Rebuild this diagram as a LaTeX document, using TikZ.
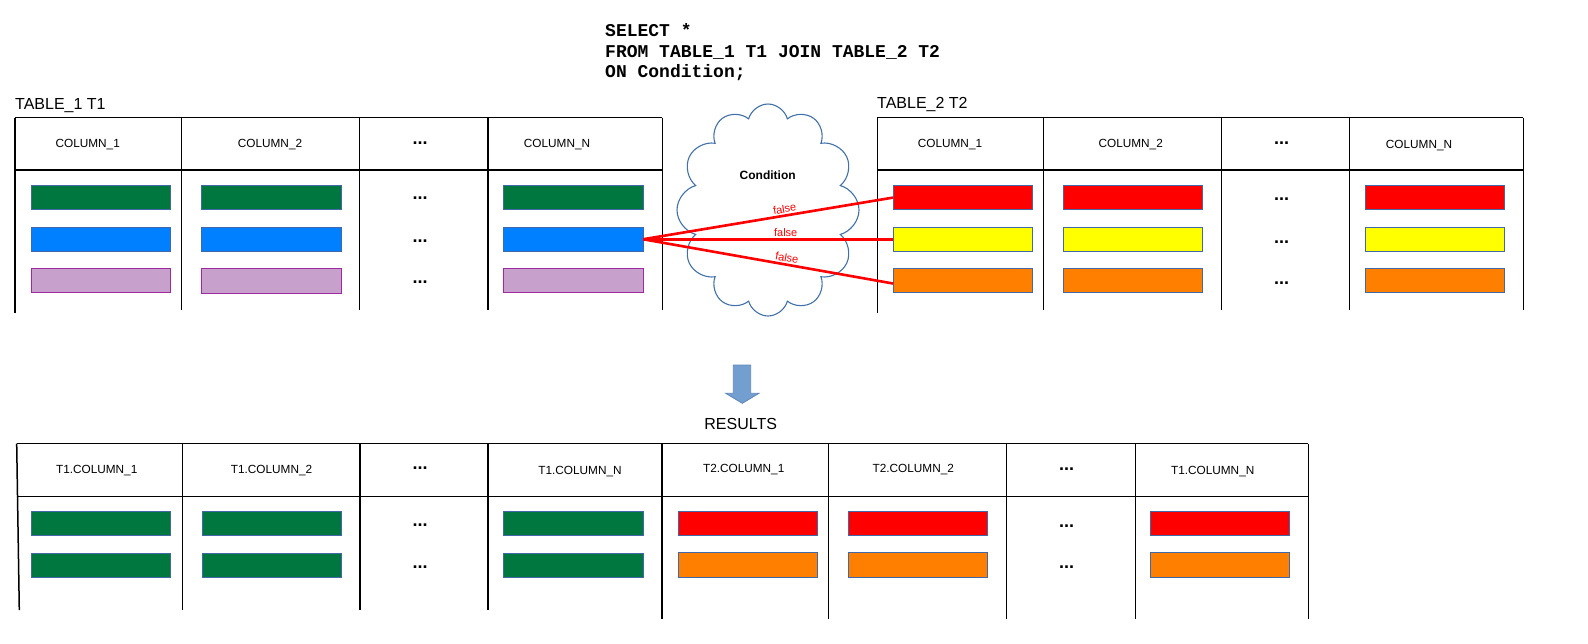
\documentclass[tikz,border=0pt]{standalone}
\usepackage{fontspec}
\setmainfont{Liberation Sans}
\newfontfamily\sqlfont{Liberation Mono}
\usetikzlibrary{shapes.symbols}
\definecolor{gr}{RGB}{0,119,62}
\definecolor{bl}{RGB}{0,128,255}
\definecolor{pk}{RGB}{200,160,204}
\definecolor{pkline}{RGB}{160,40,160}
\definecolor{rd}{RGB}{255,0,0}
\definecolor{yl}{RGB}{255,255,0}
\definecolor{og}{RGB}{255,128,0}
\definecolor{barline}{RGB}{65,105,170}
\definecolor{cloudblue}{RGB}{65,113,170}
\definecolor{arrowfill}{RGB}{114,159,207}
\definecolor{arrowline}{RGB}{95,135,185}
\begin{document}
\begin{tikzpicture}[x=1pt,y=-1pt,
  bar/.style={draw=barline, line width=0.8pt, minimum width=139.5pt, minimum height=24.5pt, anchor=north west, inner sep=0pt, outer sep=0pt},
  gridline/.style={line width=1.5pt, black},
  hdr/.style={font=\fontsize{11.8}{14}\selectfont, inner sep=0pt},
  dots/.style={font=\bfseries\fontsize{18}{18}\selectfont, inner sep=0pt},
  ttl/.style={font=\fontsize{16}{18}\selectfont, inner sep=0pt},
  sql/.style={font=\sqlfont\bfseries\fontsize{18}{20}\selectfont, inner sep=0pt, anchor=base west},
  redline/.style={draw=rd, line width=2.6pt},
  falselbl/.style={text=rd, font=\fontsize{11}{12}\selectfont, sloped, above, inner sep=1.5pt, pos=0.57}
]
\useasboundingbox (0,0) rectangle (1588,643);

% SQL text
\node[sql] (sql1) at (605,36.9) {SELECT *};
\node[sql] (sql2) at (605,57.9) {FROM TABLE\_1 T1 JOIN TABLE\_2 T2};
\node[sql] (sql3) at (605,77.5) {ON Condition;};

% Titles
\node[ttl, anchor=west] (t1title) at (15,106) {TABLE\_1 T1};
\node[ttl, anchor=west] (t2title) at (877,105) {TABLE\_2 T2};
\node[ttl] (restitle) at (740.7,424) {RESULTS};

% Table 1 grid
\draw[gridline] (15,117.7) -- (662.3,117.7);
\draw[gridline] (15,170) -- (662.3,170);
\draw[gridline] (15,117.7) -- (15,313);
\foreach \x in {181.7,359.3,488,662.3} \draw[gridline] (\x,117.7) -- (\x,310);

% Table 1 headers
\node[hdr] (t1h1) at (87.7,144.3) {COLUMN\_1};
\node[hdr] (t1h2) at (270,144.3) {COLUMN\_2};
\node[dots] (t1h3) at (420,142.8) {...};
\node[hdr] (t1h4) at (557,144.8) {COLUMN\_N};

% Table 1 rows
\node[bar, fill=gr] (t1a1) at (31,185.3) {};
\node[bar, fill=gr] (t1a2) at (201.5,185.3) {};
\node[bar, fill=gr] (t1a4) at (503.6,185.3) {};
\node[bar, fill=bl] (t1b1) at (31,227) {};
\node[bar, fill=bl] (t1b2) at (201.5,227) {};
\node[bar, fill=bl] (t1b4) at (503.6,227) {};
\node[bar, fill=pk, draw=pkline] (t1c1) at (31,268.3) {};
\node[bar, fill=pk, draw=pkline] (t1c2) at (201.5,268.8) {};
\node[bar, fill=pk, draw=pkline] (t1c4) at (503.6,268.3) {};
\node[dots] (t1d1) at (420,198.5) {...};
\node[dots] (t1d2) at (420,241) {...};
\node[dots] (t1d3) at (420,282.6) {...};

% Table 2 grid
\draw[gridline] (877.3,117.7) -- (1523.3,117.7);
\draw[gridline] (877.3,170) -- (1523.3,170);
\draw[gridline] (877.3,117.7) -- (877.3,313);
\foreach \x in {1043.7,1221.5,1349.3,1523.3} \draw[gridline] (\x,117.7) -- (\x,310);

% Table 2 headers
\node[hdr] (t2h1) at (950,144.3) {COLUMN\_1};
\node[hdr] (t2h2) at (1130.7,144.3) {COLUMN\_2};
\node[dots] (t2h3) at (1281.7,142.7) {...};
\node[hdr] (t2h4) at (1419,145.7) {COLUMN\_N};

% Table 2 rows
\node[bar, fill=rd] (t2a1) at (893.3,185.3) {};
\node[bar, fill=rd] (t2a2) at (1063.3,185.3) {};
\node[bar, fill=rd] (t2a4) at (1365.3,185.3) {};
\node[bar, fill=yl] (t2b1) at (893.3,227) {};
\node[bar, fill=yl] (t2b2) at (1063.3,227) {};
\node[bar, fill=yl] (t2b4) at (1365.3,227) {};
\node[bar, fill=og] (t2c1) at (893.3,268.3) {};
\node[bar, fill=og] (t2c2) at (1063.3,268.3) {};
\node[bar, fill=og] (t2c4) at (1365.3,268.3) {};
\node[dots] (t2d1) at (1281.7,199.3) {...};
\node[dots] (t2d2) at (1281.7,241.7) {...};
\node[dots] (t2d3) at (1281.7,282.7) {...};

% Cloud
\node[cloud, draw=cloudblue, line width=1.1pt, cloud puffs=12, cloud ignores aspect, minimum width=182pt, minimum height=212pt, inner sep=0pt] (cond) at (768,210) {};
\node[font=\bfseries\fontsize{12}{14}\selectfont, inner sep=0pt] (condlbl) at (767.7,175.7) {Condition};

% Red comparison lines
\draw[redline] (t1b4.east) -- node[falselbl] (f1) {false} (t2a1.west);
\draw[redline] (t1b4.east) -- node[falselbl] (f2) {false} (t2b1.west);
\draw[redline] (t1b4.east) -- node[falselbl] (f3) {false} ([yshift=-3pt]t2c1.west);

% Down arrow
\draw[fill=arrowfill, draw=arrowline, line width=0.8pt] (733.3,365) -- (750.7,365) -- (750.7,393.3) -- (759,393.3) -- (742.3,403.3) -- (725.7,393.3) -- (733.3,393.3) -- cycle;

% Results grid
\draw[gridline] (16.7,443.7) -- (1308.3,443.7);
\draw[gridline] (16.7,496.3) -- (1308.3,496.3);
\draw[gridline] (16.7,443.7) -- (19.3,610);
\foreach \x in {182.3,360,488} \draw[gridline] (\x,443.7) -- (\x,610);
\draw[line width=2.2pt] (662.3,443.7) -- (662.3,619);
\foreach \x in {828.7,1006.7,1135.3,1308.3} \draw[gridline] (\x,443.7) -- (\x,619);

% Results headers
\node[hdr] (rh1) at (96.7,471) {T1.COLUMN\_1};
\node[hdr] (rh2) at (271.5,471) {T1.COLUMN\_2};
\node[dots] (rh3) at (420,468) {...};
\node[hdr] (rh4) at (580,472) {T1.COLUMN\_N};
\node[hdr] (rh5) at (743.7,469.3) {T2.COLUMN\_1};
\node[hdr] (rh6) at (913.3,470) {T2.COLUMN\_2};
\node[dots] (rh7) at (1066.7,469.3) {...};
\node[hdr] (rh8) at (1212.7,472) {T1.COLUMN\_N};

% Results rows
\node[bar, fill=gr] (ra1) at (31,511) {};
\node[bar, fill=gr] (ra2) at (202.3,511) {};
\node[bar, fill=gr] (ra4) at (503.6,511) {};
\node[bar, fill=rd] (ra5) at (678.3,511.3) {};
\node[bar, fill=rd] (ra6) at (848.3,511.3) {};
\node[bar, fill=rd] (ra8) at (1150.3,511.3) {};
\node[bar, fill=gr] (rb1) at (31,553) {};
\node[bar, fill=gr] (rb2) at (202.3,553) {};
\node[bar, fill=gr] (rb4) at (503.6,553) {};
\node[bar, fill=og] (rb5) at (678.3,552.5) {};
\node[bar, fill=og] (rb6) at (848.3,552.5) {};
\node[bar, fill=og] (rb8) at (1150.3,552.5) {};
\node[dots] (rd1) at (420,525.6) {...};
\node[dots] (rd2) at (420,567) {...};
\node[dots] (rd3) at (1066.7,526) {...};
\node[dots] (rd4) at (1066.7,566.7) {...};
\end{tikzpicture}
\end{document}
